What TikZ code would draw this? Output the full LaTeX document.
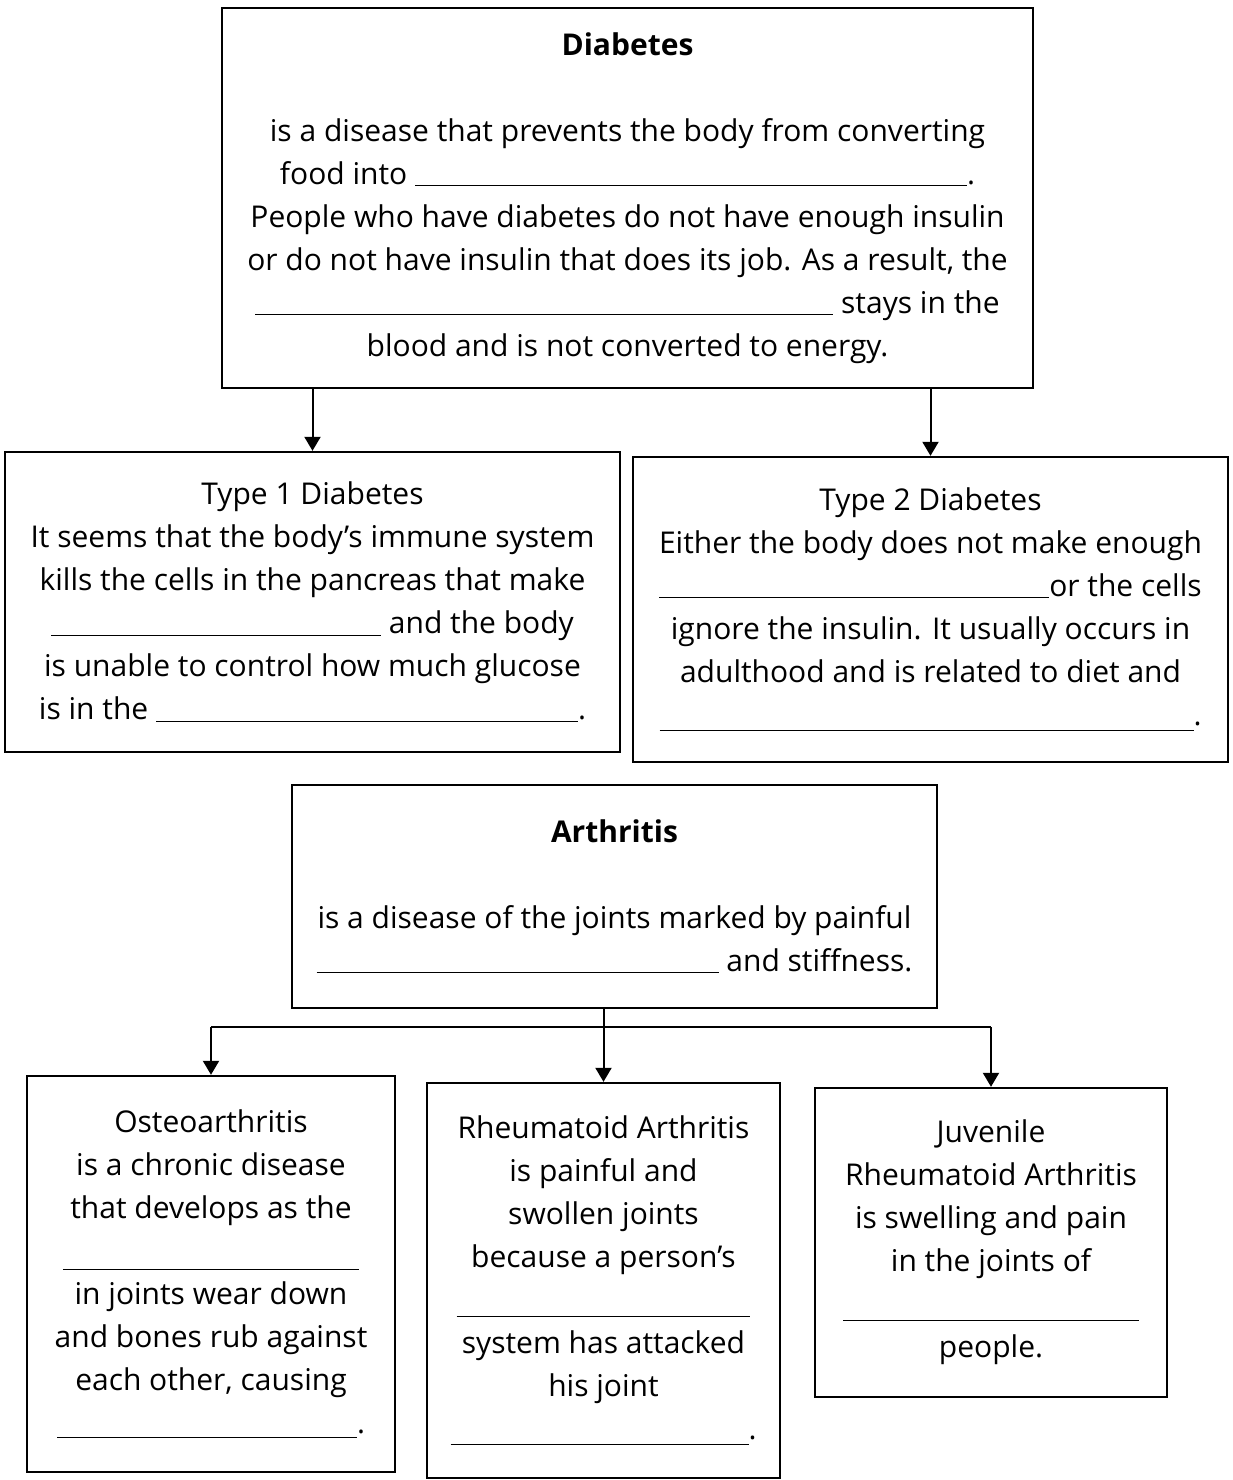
\documentclass[tikz,border=0pt]{standalone}
\usepackage{fontspec}
\setmainfont{Open Sans}
\usetikzlibrary{arrows.meta}
\newcommand{\blank}[2][-1pt]{\rule[#1]{#2pt}{0.6pt}}
\tikzset{
  box/.style={draw, line width=1.2pt, align=center, inner sep=0pt,
    font=\fontsize{15pt}{21.5pt}\selectfont},
  arr/.style={line width=1pt, -{Triangle[width=8pt,length=7pt]}},
}
\begin{document}
\begin{tikzpicture}[x=0.5pt,y=-0.5pt]
\useasboundingbox (0,0) rectangle (1233,1480);

\node[box, minimum width=405.5pt, minimum height=190pt] (diabetes) at (627.5,198)
 {\textbf{Diabetes}\\[21.5pt]
  is a disease that prevents the body from converting\\
  food into \blank{276}.\\
  People who have diabetes do not have enough insulin\\
  or do not have insulin that does its job. As a result, the\\
  \blank{289} stays in the\\
  blood and is not converted to energy.};

\node[box, minimum width=307.5pt, minimum height=150pt] (type1) at (312.5,602)
 {Type 1 Diabetes\\
  It seems that the body's immune system\\
  kills the cells in the pancreas that make\\
  \blank{165} and the body\\
  is unable to control how much glucose\\
  is in the \blank{211}.};

\node[box, minimum width=297.5pt, minimum height=152.5pt] (type2) at (930.5,609.5)
 {Type 2 Diabetes\\
  Either the body does not make enough\\
  \blank{195}or the cells\\
  ignore the insulin. It usually occurs in\\
  adulthood and is related to diet and\\
  \blank[-3pt]{267}.};

\node[box, minimum width=322.5pt, minimum height=111.5pt] (arthritis) at (614.5,896.5)
 {\textbf{Arthritis}\\[21.5pt]
  is a disease of the joints marked by painful\\
  \blank{201} and stiffness.};

\node[box, minimum width=184pt, minimum height=198pt] (osteo) at (211,1274)
 {Osteoarthritis\\
  is a chronic disease\\
  that develops as the\\
  \blank[-4pt]{148}\\
  in joints wear down\\
  and bones rub against\\
  each other, causing\\
  \blank[-2pt]{150}.};

\node[box, minimum width=176.5pt, minimum height=197.5pt] (rheum) at (603.5,1280.5)
 {Rheumatoid Arthritis\\
  is painful and\\
  swollen joints\\
  because a person's\\
  \blank[-3pt]{147}\\
  system has attacked\\
  his joint\\
  \blank[-2.5pt]{149}.};

\node[box, minimum width=176pt, minimum height=154.5pt] (juvenile) at (991,1242.5)
 {Juvenile\\
  Rheumatoid Arthritis\\
  is swelling and pain\\
  in the joints of\\
  \blank[-3pt]{148}\\
  people.};

% diabetes types
\draw[arr] (type1.north |- diabetes.south) -- (type1.north);
\draw[arr] (type2.north |- diabetes.south) -- (type2.north);

% arthritis types
\coordinate (bar) at (606,1027);
\draw[arr] (rheum.north |- arthritis.south) -- (rheum.north);
\draw[line width=1pt] (bar -| osteo.north) -- (bar -| juvenile.north);
\draw[arr] (bar -| osteo.north) -- (osteo.north);
\draw[arr] (bar -| juvenile.north) -- (juvenile.north);
\end{tikzpicture}
\end{document}
